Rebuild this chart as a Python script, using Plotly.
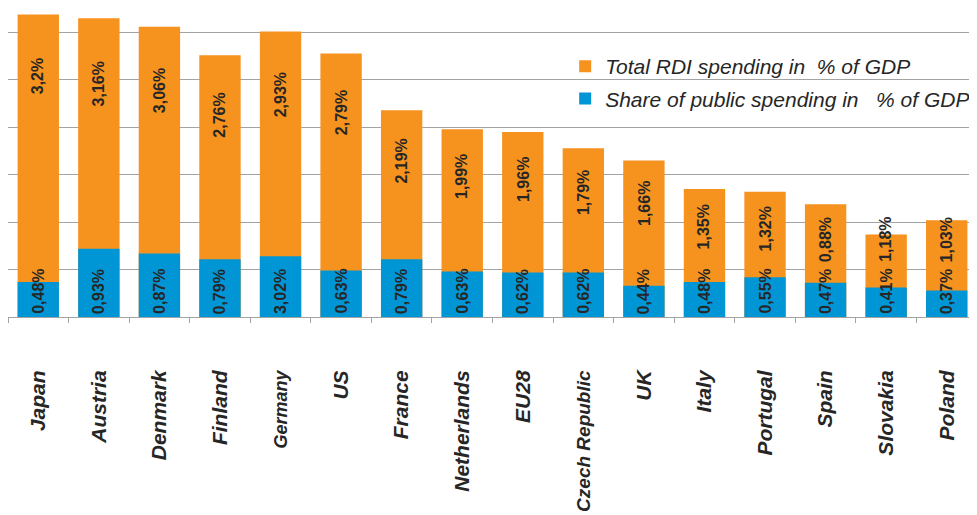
import plotly.graph_objects as go

countries = ["Japan", "Austria", "Denmark", "Finland", "Germany", "US", "France",
             "Netherlands", "EU28", "Czech Republic", "UK", "Italy", "Portugal",
             "Spain", "Slovakia", "Poland"]
tick_labels = ["Japan", "Austria", "Denmark", "Finland",
               "<span style='font-size:18px'>Germany</span>", "US", "France",
               "Netherlands", "EU28", "<span style='font-size:19px'>Czech Republic</span>",
               "UK", "Italy", "Portugal", "Spain", "Slovakia", "Poland"]

# bar heights as drawn (% of GDP)
total_rdi = [3.19, 3.15, 3.06, 2.76, 3.01, 2.78, 2.18, 1.98, 1.95, 1.78, 1.65,
             1.35, 1.32, 1.19, 0.87, 1.02]
public_share = [0.37, 0.72, 0.67, 0.61, 0.64, 0.49, 0.61, 0.48, 0.47, 0.47, 0.33,
                0.37, 0.42, 0.36, 0.31, 0.28]

# value labels as printed on the chart
total_labels = ["3,2%", "3,16%", "3,06%", "2,76%", "2,93%", "2,79%", "2,19%", "1,99%",
                "1,96%", "1,79%", "1,66%", "1,35%", "1,32%", "0,88%", "1,18%", "1,03%"]
public_labels = ["0,48%", "0,93%", "0,87%", "0,79%", "3,02%", "0,63%", "0,79%", "0,63%",
                 "0,62%", "0,62%", "0,44%", "0,48%", "0,55%", "0,47%", "0,41%", "0,37%"]

ORANGE = "#F6921E"
BLUE = "#0096D6"
TEXT = "#262626"
GRID = "#a3a3a3"
FONT = "Liberation Sans, Arial, sans-serif"

fig = go.Figure()
fig.add_trace(go.Bar(x=countries, y=total_rdi, name="Total RDI spending in\u00a0 % of GDP",
                     marker=dict(color=ORANGE, line=dict(width=0)), legendgroup="a"))
fig.add_trace(go.Bar(x=countries, y=public_share,
                     name="Share of public spending in\u00a0\u00a0 % of GDP",
                     marker=dict(color=BLUE, line=dict(width=0)), legendgroup="b"))

label_font = dict(family=FONT, size=16, color=TEXT, weight="bold")
for c, t, tl, pl in zip(countries, total_rdi, total_labels, public_labels):
    fig.add_annotation(x=c, y=max(0.84 * t, 1.0), text=tl, textangle=-90,
                       yanchor="top", xanchor="center", yshift=7, showarrow=False,
                       font=label_font)
    fig.add_annotation(x=c, y=0, text=pl, textangle=-90, yanchor="bottom",
                       xanchor="center", yshift=1, showarrow=False, font=label_font)

# the page body adds an 8px offset; the figure is sized to fill the rest of the window
fig.update_layout(
    width=969, height=507,
    margin=dict(l=0, r=0, t=0, b=198),
    paper_bgcolor="white", plot_bgcolor="white",
    barmode="overlay", bargap=0.317,
    font=dict(family=FONT, color=TEXT),
    showlegend=True,
    legend=dict(x=0.575, y=0.877, xanchor="left", yanchor="top",
                bgcolor="rgba(0,0,0,0)", traceorder="grouped", tracegroupgap=2,
                font=dict(family=FONT, size=21, color=TEXT, style="italic")),
    xaxis=dict(type="category", tickmode="array", tickvals=countries, ticktext=tick_labels,
               tickangle=-90, showgrid=False, showline=True, linecolor=GRID, linewidth=1,
               ticks="outside", tickson="boundaries", ticklen=5, tickcolor=GRID,
               ticklabelstandoff=44, automargin=False,
               tickfont=dict(family=FONT, size=21, color=TEXT, weight="bold", style="italic"),
               range=[-0.5, 15.5]),
    yaxis=dict(range=[0, 3.259], dtick=0.5, showgrid=True, gridcolor=GRID, gridwidth=1,
               showticklabels=False, zeroline=False, showline=False, ticks="",
               automargin=False),
)

fig.write_html("out.html")
